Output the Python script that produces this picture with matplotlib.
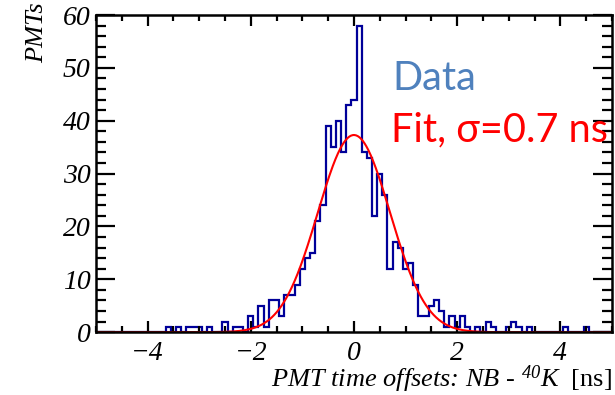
import numpy as np
import matplotlib.pyplot as plt
from matplotlib.ticker import MultipleLocator

# středy binů (šířka 0.1 ns) a počty PMT
centers = np.round(np.arange(-5.0, 5.01, 0.1), 1)
counts = np.zeros(len(centers))
nonzero = {
    -3.6: 1, -3.4: 1, -3.2: 1, -3.1: 1, -3.0: 1, -2.8: 1, -2.5: 2,
    -2.3: 1, -2.2: 1, -2.0: 3, -1.9: 1, -1.8: 5, -1.7: 1, -1.6: 6,
    -1.5: 6, -1.4: 3, -1.3: 7, -1.2: 7, -1.1: 9, -1.0: 12, -0.9: 14,
    -0.8: 15, -0.7: 21, -0.6: 24, -0.5: 39, -0.4: 35, -0.3: 40,
    -0.2: 34, -0.1: 43, 0.0: 44, 0.1: 58, 0.2: 34, 0.3: 33, 0.4: 22,
    0.5: 30, 0.6: 26, 0.7: 12, 0.8: 17, 0.9: 16, 1.0: 12, 1.1: 13,
    1.2: 9, 1.3: 3, 1.4: 3, 1.5: 5, 1.6: 6, 1.7: 4, 1.8: 1, 1.9: 3,
    2.0: 1, 2.1: 3, 2.2: 1, 2.4: 1, 2.6: 2, 2.7: 1, 3.0: 1, 3.1: 2,
    3.2: 1, 3.4: 1, 4.1: 1, 4.5: 1,
}
for c, n in nonzero.items():
    counts[np.argmin(np.abs(centers - c))] = n
edges = np.append(centers - 0.05, centers[-1] + 0.05)

# parametry fitu
fit_amp = 37.3
fit_mean = 0.0
fit_sigma = 0.7

t = np.linspace(-5, 5, 600)
g = fit_amp * np.exp(-0.5 * ((t - fit_mean) / fit_sigma) ** 2)

serif = "Liberation Serif"
plt.rcParams["mathtext.fontset"] = "custom"
plt.rcParams["mathtext.rm"] = serif + ":italic"
plt.rcParams["mathtext.it"] = serif + ":italic"
plt.rcParams["mathtext.sf"] = serif

fig = plt.figure(figsize=(6.15, 3.95), dpi=100)
ax = fig.add_axes([0.156, 0.159, 0.839, 0.803])

ax.stairs(counts, edges, color="#000099", lw=1.6)
ax.plot(t, g, color="red", lw=1.5)

ax.set_xlim(-5, 5)
ax.set_ylim(0, 60)

ax.xaxis.set_major_locator(MultipleLocator(2))
ax.xaxis.set_minor_locator(MultipleLocator(0.5))
ax.yaxis.set_major_locator(MultipleLocator(10))
ax.yaxis.set_minor_locator(MultipleLocator(2))
ax.tick_params(which="both", direction="in", top=True, right=True, width=1.6)
ax.tick_params(axis="x", which="major", length=8, pad=6)
ax.tick_params(axis="x", which="minor", length=4)
ax.tick_params(axis="y", which="major", length=14, pad=4)
ax.tick_params(axis="y", which="minor", length=7)
for lab in ax.get_xticklabels() + ax.get_yticklabels():
    lab.set_fontfamily(serif)
    lab.set_fontstyle("italic")
    lab.set_fontsize(20)
for s in ax.spines.values():
    s.set_linewidth(1.8)

ax.set_ylabel("PMTs", fontfamily=serif, fontstyle="italic", fontsize=19, loc="top")
ax.yaxis.set_label_coords(-0.092, 1.04, transform=ax.transAxes)
ax.set_xlabel(r"PMT time offsets: NB - $^{40}$K  $\mathsf{[ns]}$",
              fontfamily=serif, fontstyle="italic", fontsize=19, loc="right")
ax.xaxis.set_label_coords(1.0, -0.1)

ax.text(0.575, 0.765, "Data", transform=ax.transAxes, color="#4F81BD",
        fontfamily="Lato", fontsize=28.5)
ax.text(0.571, 0.600, "Fit, σ=0.7 ns", transform=ax.transAxes, color="red",
        fontfamily="Lato", fontsize=28.5)

plt.savefig("out.png", dpi=100)
